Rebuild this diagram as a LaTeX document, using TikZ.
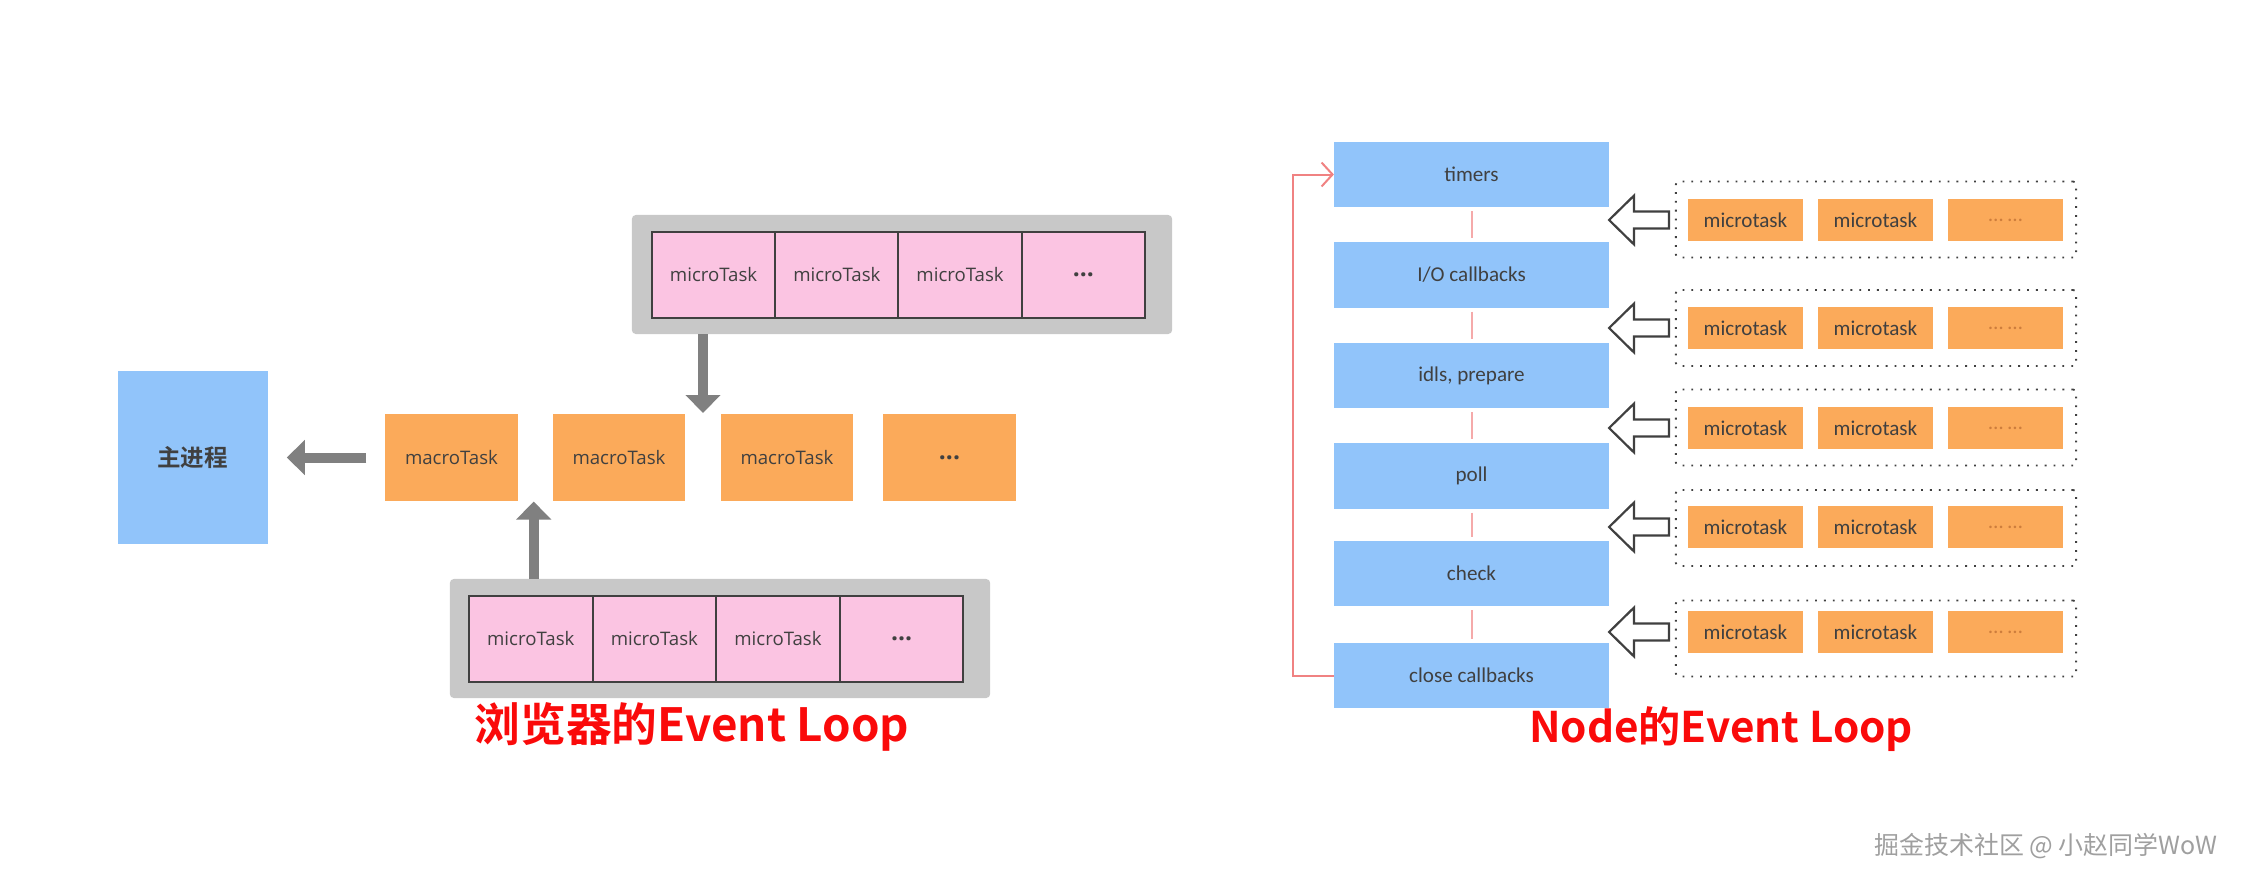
\documentclass[tikz,border=0pt]{standalone}
\usepackage{fontspec}
\newfontfamily\cjk{Noto Sans CJK SC}[BoldFont={Noto Sans CJK SC Bold}]
\newfontfamily\hand{Open Sans}
\newfontfamily\lbl{Carlito}
\usepackage{tikz}
\usetikzlibrary{arrows.meta}
\usetikzlibrary{calc}
\definecolor{bluebox}{RGB}{145,196,250}
\definecolor{orangebox}{RGB}{251,170,90}
\definecolor{pinkbox}{RGB}{251,196,226}
\definecolor{graybox}{RGB}{200,200,200}
\definecolor{grayarrow}{RGB}{128,128,128}
\definecolor{loopred}{RGB}{240,130,130}
\definecolor{linkpink}{RGB}{245,170,170}
\definecolor{titlered}{RGB}{250,10,10}
\definecolor{textgray}{RGB}{64,64,64}
\definecolor{dotsorange}{RGB}{205,125,60}
\tikzset{
box/.style = {rectangle, inner sep=0pt, outer sep=0pt},
mainbox/.style = {box, fill=bluebox, minimum width=1.50cm, minimum height=1.72cm,
                  font=\cjk\bfseries\fontsize{6.7}{8}\selectfont, text=textgray},
macro/.style = {box, fill=orangebox, minimum width=1.32cm, minimum height=0.87cm,
                font=\hand\fontsize{5.3}{6}\selectfont, text=textgray},
micro/.style = {box, fill=pinkbox, draw=textgray, line width=0.02cm,
                minimum width=1.235cm, minimum height=0.86cm,
                font=\hand\fontsize{5.3}{6}\selectfont, text=textgray},
dots/.style = {font=\hand\bfseries\fontsize{7}{8}\selectfont},
tray/.style = {box, fill=graybox, rounded corners=0.04cm,
               minimum width=5.40cm, minimum height=1.19cm},
push/.style = {draw=grayarrow, line width=0.1cm,
               -{Triangle[length=0.18cm, width=0.34cm]}},
phase/.style = {box, fill=bluebox, minimum width=2.75cm, minimum height=0.65cm,
                font=\lbl\fontsize{6}{7}\selectfont, text=textgray},
task/.style = {box, fill=orangebox, minimum width=1.15cm, minimum height=0.42cm,
               font=\lbl\fontsize{6}{7}\selectfont, text=textgray},
queue/.style = {box, draw=textgray, dotted, line width=0.018cm, rounded corners=0.03cm,
                minimum width=4.00cm, minimum height=0.76cm},
link/.style = {draw=linkpink, line width=0.02cm, shorten >=0.04cm, shorten <=0.04cm},
loopback/.style = {draw=loopred, line width=0.02cm,
                   -{Straight Barb[length=0.11cm, width=0.24cm]}},
hollow/.style = {draw=textgray, fill=white, line width=0.022cm, line join=miter},
title/.style = {font=\cjk\bfseries\fontsize{#1}{15}\selectfont, text=titlered},
title/.default = 13,
watermark/.style = {font=\cjk\fontsize{7.1}{8}\selectfont, text=gray!75}
}
% one stage of the node loop
\newcommand{\phase}[3]{\node[phase] (#1) at (1471.5,#2) {#3};}
% dotted queue with its three tasks, #2 = queue y, #3 = task y
\newcommand{\queue}[3]{
  \node[queue] (q#1) at (1876,#2) {};
  \node[task] (t#1a) at (1745.5,#3) {microtask};
  \node[task] (t#1b) at (1875.5,#3) {microtask};
  \node[task, text=dotsorange] (t#1c) at (2005.5,#3) {\ldots\ \ldots};
}
% open block arrow, tip at #1
\newcommand{\hollow}[1]{\draw[hollow] (#1) -- ++(25,-24.5) -- ++(0,16) -- ++(35,0)
  -- ++(0,17) -- ++(-35,0) -- ++(0,16) -- cycle;}

\begin{document}
\begin{tikzpicture}[x=0.01cm, y=-0.01cm]
    \useasboundingbox (0,0) rectangle (2244,884);

    % browser
    \node[mainbox] (main) at (192.7,457.5) {主进程};
    \node[macro] (mac1) at (451.5,457.5) {macroTask};
    \node[macro] (mac2) at (619,457.5) {macroTask};
    \node[macro] (mac3) at (787,457.5) {macroTask};
    \node[macro, dots] (mac4) at (949.5,457.5) {...};

    \node[tray] (toptray) at (902,274.5) {};
    \node[micro] (top1) at (713.6,275) {microTask};
    \node[micro] (top2) at (836.9,275) {microTask};
    \node[micro] (top3) at (960.1,275) {microTask};
    \node[micro, dots] (top4) at (1083.4,275) {...};

    \node[tray] (bottray) at (720,638.5) {};
    \node[micro] (bot1) at (530.8,639) {microTask};
    \node[micro] (bot2) at (654.4,639) {microTask};
    \node[micro] (bot3) at (778,639) {microTask};
    \node[micro, dots] (bot4) at (901.7,639) {...};

    \coordinate (downtip) at (703,413);
    \coordinate (uptip) at (533.7,501.5);
    \draw[push, shorten <=0.19cm, shorten >=0.19cm] (mac1.west) -- (main.east);
    \draw[push] (toptray.south -| downtip) -- (downtip);
    \draw[push] (bottray.north -| uptip) -- (uptip);

    \node[title] (browsertitle) at (692,727) {浏览器的Event Loop};

    % node
    \phase{timers}{174.5}{timers};
    \phase{io}{275}{I/O callbacks};
    \phase{idle}{375.5}{idls, prepare};
    \phase{poll}{476}{poll};
    \phase{check}{573.5}{check};
    \phase{close}{675.5}{close callbacks};
    \draw[link] (timers.south) -- (io.north);
    \draw[link] (io.south) -- (idle.north);
    \draw[link] (idle.south) -- (poll.north);
    \draw[link] (poll.south) -- (check.north);
    \draw[link] (check.south) -- (close.north);

    \coordinate (loopcorner) at (1293,675.5);
    \draw[loopback] (close.west) -- (loopcorner) |- (timers.west);

    \queue{1}{219.5}{220};
    \queue{2}{328}{328};
    \queue{3}{427.5}{428};
    \queue{4}{528}{527};
    \queue{5}{638.5}{632};
    \hollow{t1a.west -| timers.east};
    \hollow{t2a.west -| timers.east};
    \hollow{t3a.west -| timers.east};
    \hollow{t4a.west -| timers.east};
    \hollow{t5a.west -| timers.east};

    \node[title=12] (nodetitle) at (1721,729) {Node的Event Loop};
    \node[watermark] (mark) at (2046,846) {掘金技术社区 @ 小赵同学WoW};
\end{tikzpicture}
\end{document}
